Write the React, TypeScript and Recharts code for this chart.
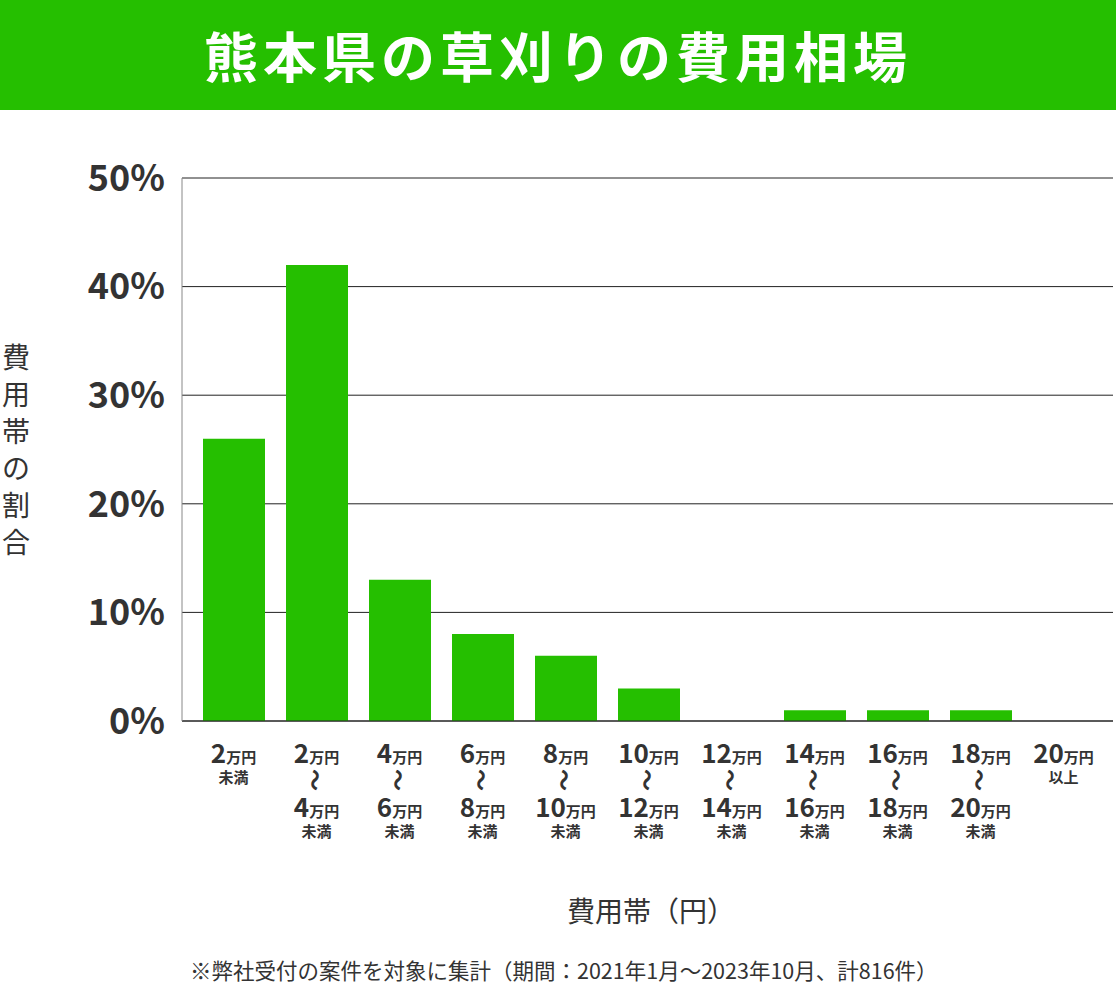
import { BarChart, Bar, XAxis, YAxis, CartesianGrid } from 'recharts';

const categories = [
  '2万円未満',
  '2万円～4万円未満',
  '4万円～6万円未満',
  '6万円～8万円未満',
  '8万円～10万円未満',
  '10万円～12万円未満',
  '12万円～14万円未満',
  '14万円～16万円未満',
  '16万円～18万円未満',
  '18万円～20万円未満',
  '20万円以上',
];
const shares = [26, 42, 13, 8, 6, 3, 0, 1, 1, 1, 0];
const yTicks = [0, 10, 20, 30, 40, 50];

const title = '熊本県の草刈りの費用相場';
const yLabel = '費用帯の割合';
const xLabel = '費用帯（円）';
const note = '※弊社受付の案件を対象に集計（期間：2021年1月～2023年10月、計816件）';

const GREEN = '#25bf00';
const TEXT = '#333333';
const FONT = '"Noto Sans CJK JP", "Noto Sans", sans-serif';

const data = categories.map((name, i) => ({ name, share: shares[i] }));

function Amount({ y, num }: { y: number; num: string }) {
  return (
    <text y={y} textAnchor="middle" fill={TEXT} fontWeight="bold" fontFamily={FONT}>
      <tspan fontSize={26}>{num}</tspan>
      <tspan fontSize={15}>万円</tspan>
    </text>
  );
}

function PriceTick({ x, y, payload }: any) {
  const m = /^(\d+)万円(?:～(\d+)万円)?(未満|以上)$/.exec(payload.value);
  if (!m) return null;
  const [, from, to, tail] = m;
  return (
    <g transform={`translate(${x},${y})`}>
      <Amount y={42} num={from} />
      {to ? (
        <>
          <text
            transform="translate(0,59) rotate(90)"
            textAnchor="middle"
            dominantBaseline="central"
            fontSize={22}
            fill={TEXT}
            fontWeight="bold"
            fontFamily={FONT}
          >
            〜
          </text>
          <Amount y={96} num={to} />
          <text y={116} textAnchor="middle" fontSize={15} fontWeight="bold" fill={TEXT} fontFamily={FONT}>
            {tail}
          </text>
        </>
      ) : (
        <text y={62} textAnchor="middle" fontSize={15} fontWeight="bold" fill={TEXT} fontFamily={FONT}>
          {tail}
        </text>
      )}
    </g>
  );
}

export default function App() {
  return (
    <div
      style={{
        position: 'absolute',
        left: 0,
        top: 0,
        width: 1116,
        height: 989,
        background: '#fff',
        fontFamily: FONT,
      }}
    >
      <div
        style={{
          position: 'absolute',
          left: 0,
          top: 0,
          width: 1116,
          height: 110,
          background: GREEN,
          color: '#fff',
          fontSize: 54,
          fontWeight: 'bold',
          letterSpacing: 5,
          lineHeight: '110px',
          textAlign: 'center',
        }}
      >
        {title}
      </div>

      <BarChart
        width={1116}
        height={989}
        data={data}
        margin={{ top: 178, right: 3, bottom: 138, left: 0 }}
        barSize={62}
      >
        <CartesianGrid vertical={false} stroke="#222" />
        <XAxis
          dataKey="name"
          interval={0}
          height={130}
          padding={{ left: 10, right: 8 }}
          tickLine={false}
          tickSize={0}
          tickMargin={0}
          axisLine={{ stroke: '#222' }}
          tick={<PriceTick />}
        />
        <YAxis
          width={182}
          domain={[0, 50]}
          ticks={yTicks}
          tickFormatter={(v: number) => `${v}%`}
          tickSize={0}
          tickMargin={17}
          tickLine={false}
          axisLine={{ stroke: '#888' }}
          tick={{ fill: TEXT, fontSize: 36, fontWeight: 'bold', fontFamily: FONT }}
        />
        <Bar dataKey="share" fill={GREEN} isAnimationActive={false} />
      </BarChart>

      <div
        style={{
          position: 'absolute',
          left: 0,
          top: 338,
          width: 32,
          fontSize: 28,
          lineHeight: '37px',
          color: TEXT,
          textAlign: 'center',
        }}
      >
        {yLabel.split('').map((c, i) => (
          <div key={i}>{c}</div>
        ))}
      </div>

      <div
        style={{
          position: 'absolute',
          left: 451,
          top: 890,
          width: 400,
          fontSize: 28,
          lineHeight: '40px',
          color: TEXT,
          textAlign: 'center',
        }}
      >
        {xLabel}
      </div>

      <div
        style={{
          position: 'absolute',
          left: 190,
          top: 956,
          fontSize: 21.5,
          lineHeight: '28px',
          color: TEXT,
          whiteSpace: 'nowrap',
        }}
      >
        {note}
      </div>
    </div>
  );
}
